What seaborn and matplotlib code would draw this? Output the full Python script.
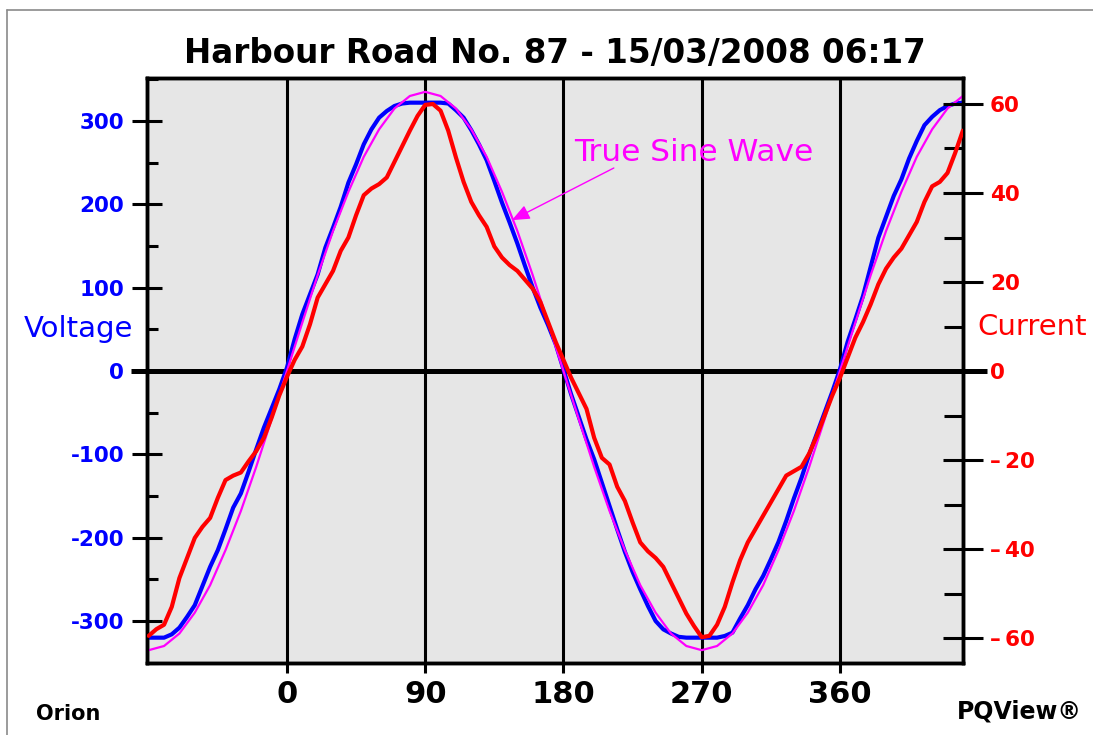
import matplotlib
matplotlib.use("Agg")
import matplotlib.pyplot as plt
from matplotlib.ticker import FixedLocator, MultipleLocator, FuncFormatter
from matplotlib.lines import Line2D
import pandas as pd
import seaborn as sns

# ---------------------------------------------------------------- data
title = "Harbour Road No. 87 - 15/03/2008 06:17"

# phase angle in degrees, 5 degree steps
angle_deg = list(range(-90, 445, 5))

# measured voltage (V), flat-topped near the peaks
voltage = [
    -320, -320, -320, -316, -308, -295, -281, -258, -235, -215, -190, -164, -147, -121, -94, -68, -45, -22,
    4, 38, 68, 92, 116, 148, 172, 197, 226, 248, 272, 290, 304, 312, 318, 321, 322, 322,
    322, 322, 322, 321, 313, 304, 289, 272, 253, 228, 202, 178, 153, 126, 100, 76, 55, 32,
    2, -28, -55, -82, -106, -134, -162, -190, -217, -241, -262, -282, -300, -310, -315, -319, -320, -320,
    -320, -320, -320, -318, -314, -297, -281, -262, -246, -226, -205, -180, -153, -128, -100, -75, -50, -25,
    2, 35, 62, 90, 125, 160, 185, 210, 230, 255, 276, 295, 305, 313, 318, 321, 322,
]

# measured current (A)
current = [
    -59.5, -58, -57, -53, -46.5, -42, -37.5, -35, -33, -28.5, -24.5, -23.5, -22.8, -20.3, -18, -15, -10.5, -5.5,
    -1.3, 2.5, 5.5, 10.5, 16.5, 19.5, 22.5, 27, 30, 35, 39.5, 41, 42, 43.5, 47, 50.5, 54, 57.3,
    59.8, 60, 58.5, 54, 48, 42.5, 38, 35, 32.4, 28, 25.5, 23.8, 22.5, 20.5, 18.5, 15.5, 11, 6.5,
    2.5, -1.5, -5, -8.5, -15, -19.5, -21, -26, -29.2, -34, -38.5, -40.5, -42, -44, -47.5, -51, -54.5, -57.3,
    -59.8, -59.5, -57, -53, -47.5, -42.5, -38.5, -35.5, -32.5, -29.5, -26.5, -23.5, -22.5, -21.5, -18.5, -14.5, -10, -5.5,
    -1.5, 3, 7.5, 11, 15, 19.5, 23, 25.5, 27.5, 30.5, 33.5, 38, 41.5, 42.5, 44.5, 49, 54,
]

# ideal reference sine (V), 10 degree steps
sine_angle_deg = list(range(-90, 445, 10))
true_sine = [
    -335, -330, -315, -290, -257, -215, -168, -115, -58,
    0, 58, 115, 168, 215, 257, 290, 315, 330,
    335, 330, 315, 290, 257, 215, 168, 115, 58,
    0, -58, -115, -168, -215, -257, -290, -315, -330,
    -335, -330, -315, -290, -257, -215, -168, -115, -58,
    0, 58, 115, 168, 215, 257, 290, 315, 330,
]

x_ticks = [0, 90, 180, 270, 360]
v_ticks = [-300, -200, -100, 0, 100, 200, 300]
i_ticks = [-60, -40, -20, 0, 20, 40, 60]

waves = pd.DataFrame({"angle": angle_deg, "voltage": voltage, "current": current})
sine = pd.DataFrame({"angle": sine_angle_deg, "sine": true_sine})

# ---------------------------------------------------------------- style
sns.set_theme(style="white")
plt.rcParams["font.family"] = ["DejaVu Sans"]

BLUE = "#0000ff"
RED = "#ff0000"
MAGENTA = "#ff00ff"
PANEL = "#e6e6e6"

W, H = 1093, 735
fig = plt.figure(figsize=(W / 100, H / 100), dpi=100)
fig.patch.set_facecolor("white")

ax = fig.add_axes([147 / W, 1 - 663 / H, 816 / W, 585 / H])
ax.set_facecolor(PANEL)
ax2 = ax.twinx()

# phase markers and zero line
for xv in x_ticks:
    ax.axvline(xv, color="black", lw=2.2, zorder=1)
ax.plot([-0.019, 1.03], [0, 0], transform=ax.get_yaxis_transform(),
        color="black", lw=3.6, clip_on=False, zorder=1, solid_capstyle="butt")

# waveforms
sns.lineplot(data=waves, x="angle", y="voltage", ax=ax, color=BLUE, lw=3.0,
             estimator=None, sort=False, zorder=3)
sns.lineplot(data=sine, x="angle", y="sine", ax=ax, color=MAGENTA, lw=1.6,
             estimator=None, sort=False, zorder=4)
sns.lineplot(data=waves, x="angle", y="current", ax=ax2, color=RED, lw=3.0,
             estimator=None, sort=False, zorder=3)

ax.set_xlim(-91.1, 440.1)
ax.set_ylim(-350.4, 351.6)
ax2.set_ylim(-65.6, 65.84)
for a in (ax, ax2):
    a.set_xlabel("")
    a.set_ylabel("")
    for sp in a.spines.values():
        sp.set_color("black")
        sp.set_linewidth(2.5)
ax2.patch.set_visible(False)

# x axis
ax.set_xticks(x_ticks)
ax.set_xticklabels([str(t) for t in x_ticks], fontweight="bold", fontsize=22)
ax.tick_params(axis="x", which="major", direction="out", length=7, width=2.2,
               color="black", labelcolor="black", pad=5, top=False, bottom=True)

# left voltage axis
ax.yaxis.set_major_locator(FixedLocator(v_ticks))
ax.yaxis.set_minor_locator(MultipleLocator(50))
ax.yaxis.set_major_formatter(FuncFormatter(lambda v, p: f"{int(round(v))}"))
ax.tick_params(axis="y", which="major", direction="inout", length=21, width=2.2,
               color="black", labelcolor=BLUE, labelsize=15.5, pad=6, left=True, right=False)
ax.tick_params(axis="y", which="minor", direction="in", length=8, width=2.2,
               color="black", left=True, right=False)


def amp_label(v, p):
    v = int(round(v))
    return f"\u2013\u2009{abs(v)}" if v < 0 else f"{v}"


# right current axis
ax2.yaxis.set_major_locator(FixedLocator(i_ticks))
ax2.yaxis.set_minor_locator(MultipleLocator(10))
ax2.yaxis.set_major_formatter(FuncFormatter(amp_label))
ax2.tick_params(axis="y", which="major", direction="inout", length=29, width=2.2,
                color="black", labelcolor=RED, labelsize=15.5, pad=5)
ax2.tick_params(axis="y", which="minor", direction="in", length=13.5, width=2.2,
                color="black")
for lbl in ax.get_yticklabels() + ax2.get_yticklabels():
    lbl.set_fontweight("bold")

# annotation for the ideal sine
ax.text(186.7, 252, "True Sine Wave", color=MAGENTA, fontsize=22.5,
        ha="left", va="baseline", zorder=6)
ax.annotate("", xy=(146.4, 181), xytext=(212.8, 243.6),
            arrowprops=dict(arrowstyle="-|>,head_length=0.6,head_width=0.25",
                            color=MAGENTA, lw=1.0, mutation_scale=18,
                            shrinkA=0, shrinkB=0), zorder=6)

# titles and labels
fig.text(555 / W, 1 - 63 / H, title, fontsize=23.5, fontweight="bold",
         ha="center", va="baseline", color="black")
fig.text(133 / W, 1 - 337 / H, "Voltage", fontsize=21, color=BLUE,
         ha="right", va="baseline")
fig.text(977 / W, 1 - 335 / H, "Current", fontsize=21, color=RED,
         ha="left", va="baseline")
fig.text(36 / W, 1 - 720 / H, "Orion", fontsize=15, fontweight="bold",
         ha="left", va="baseline", color="black")
fig.text(957 / W, 1 - 718 / H, "PQView\u00ae", fontsize=17, fontweight="bold",
         ha="left", va="baseline", color="black")

# outer frame
fig.add_artist(Line2D([7 / W, 1.0], [1 - 10 / H, 1 - 10 / H], transform=fig.transFigure,
                      color="#8a8a8a", lw=1.2))
fig.add_artist(Line2D([7 / W, 7 / W], [0.0, 1 - 10 / H], transform=fig.transFigure,
                      color="#8a8a8a", lw=1.2))

fig.savefig("out.png", dpi=100)
